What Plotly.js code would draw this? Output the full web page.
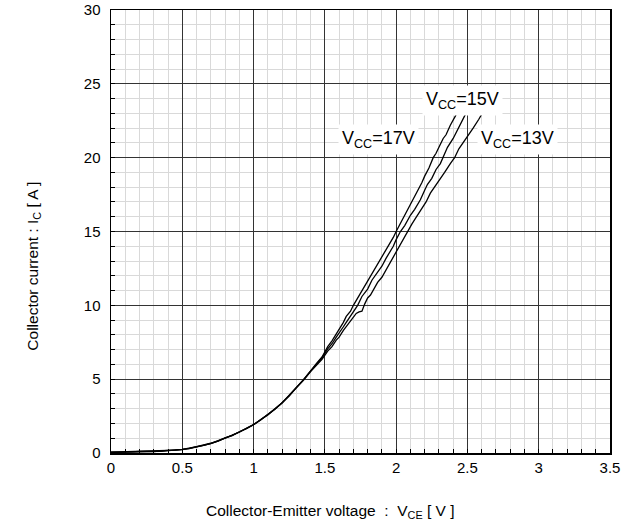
<!DOCTYPE html>
<html>
<head>
<meta charset="utf-8">
<script src="https://cdn.plot.ly/plotly-3.0.1.min.js"></script>
<style>html,body{margin:0;padding:0;background:#fff;}#chart{width:634px;height:526px;}</style>
</head>
<body>
<div id="chart"></div>
<script>
// Shared low-current part (curves overlap)
const lowVce = [0, 0.05, 0.1, 0.15, 0.2, 0.25, 0.3, 0.35, 0.4, 0.45, 0.5, 0.55, 0.6, 0.65, 0.7, 0.75, 0.8, 0.85, 0.9, 0.95, 1.0, 1.05, 1.1, 1.15, 1.2, 1.25, 1.3, 1.35, 1.4];
const lowIc17 = [0.05, 0.06, 0.07, 0.08, 0.09, 0.10, 0.11, 0.12, 0.15, 0.19, 0.24, 0.32, 0.41, 0.52, 0.65, 0.82, 1.00, 1.20, 1.42, 1.66, 1.93, 2.25, 2.60, 2.98, 3.40, 3.88, 4.42, 4.95, 5.58];
const lowIc15 = [0.04, 0.06, 0.06, 0.08, 0.08, 0.10, 0.10, 0.13, 0.14, 0.18, 0.25, 0.30, 0.40, 0.53, 0.64, 0.80, 1.02, 1.18, 1.44, 1.64, 1.91, 2.27, 2.58, 3.00, 3.38, 3.90, 4.40, 4.97, 5.55];
const lowIc13 = [0.06, 0.05, 0.08, 0.07, 0.10, 0.09, 0.12, 0.12, 0.16, 0.18, 0.23, 0.31, 0.42, 0.51, 0.66, 0.81, 0.99, 1.21, 1.41, 1.67, 1.92, 2.24, 2.61, 2.97, 3.41, 3.86, 4.43, 4.93, 5.52];

// Upper part of each curve
const hiVce17 = [1.44, 1.48, 1.52, 1.55, 1.58, 1.6, 1.63, 1.65, 1.68, 1.70, 1.73, 1.75, 1.78, 1.8, 1.83, 1.85, 1.88, 1.9, 1.93, 1.95, 1.98, 2.0, 2.03, 2.05, 2.08, 2.1, 2.13, 2.15, 2.18, 2.2, 2.23, 2.26, 2.28, 2.3, 2.33, 2.35, 2.38, 2.42];
const hiIc17  = [6.05, 6.5, 7.2, 7.6, 8.05, 8.35, 8.85, 9.25, 9.6, 10.0, 10.5, 10.8, 11.3, 11.6, 12.1, 12.45, 12.9, 13.3, 13.8, 14.15, 14.6, 15.0, 15.55, 15.85, 16.4, 16.8, 17.3, 17.7, 18.3, 18.75, 19.3, 20.0, 20.3, 20.7, 21.3, 21.55, 22.2, 22.9];

const hiVce15 = [1.44, 1.48, 1.52, 1.55, 1.58, 1.6, 1.63, 1.65, 1.68, 1.7, 1.73, 1.76, 1.8, 1.83, 1.85, 1.88, 1.9, 1.93, 1.95, 1.98, 2.0, 2.03, 2.06, 2.1, 2.13, 2.17, 2.2, 2.22, 2.25, 2.28, 2.31, 2.33, 2.36, 2.4, 2.43, 2.45, 2.48, 2.5];
const hiIc15  = [6.0, 6.45, 7.05, 7.4, 7.85, 8.1, 8.55, 8.85, 9.3, 9.55, 10.0, 10.6, 11.1, 11.7, 11.95, 12.4, 12.65, 13.2, 13.5, 14.0, 14.45, 15.0, 15.4, 16.1, 16.5, 17.15, 17.8, 18.2, 18.6, 19.2, 19.6, 20.0, 20.7, 21.3, 21.9, 22.2, 22.8, 23.2];

const hiVce13 = [1.44, 1.48, 1.52, 1.55, 1.58, 1.6, 1.63, 1.65, 1.68, 1.7, 1.72, 1.74, 1.76, 1.78, 1.8, 1.82, 1.85, 1.87, 1.9, 1.92, 1.95, 1.98, 2.0, 2.04, 2.08, 2.11, 2.14, 2.18, 2.21, 2.24, 2.27, 2.31, 2.34, 2.38, 2.41, 2.44, 2.47, 2.51, 2.54, 2.58, 2.61];
const hiIc13  = [5.95, 6.35, 6.9, 7.2, 7.65, 7.85, 8.3, 8.55, 9.0, 9.2, 9.45, 9.55, 9.6, 10.1, 10.5, 10.7, 11.2, 11.55, 11.9, 12.25, 12.7, 13.3, 13.6, 14.3, 15.0, 15.5, 15.95, 16.6, 17.0, 17.6, 18.0, 18.6, 19.0, 19.6, 20.0, 20.6, 21.0, 21.6, 22.0, 22.6, 23.1];

const xTicks = [0, 0.5, 1, 1.5, 2, 2.5, 3, 3.5];
const xTickText = ['0', '0.5', '1', '1.5', '2', '2.5', '3', '3.5'];
const yTicks = [0, 5, 10, 15, 20, 25, 30];
const yTickText = ['0', '5', '10', '15', '20', '25', '30'];

const labels = ['V<sub>CC</sub>=17V', 'V<sub>CC</sub>=15V', 'V<sub>CC</sub>=13V'];
const labelX = [1.874, 2.467, 2.853];
const labelY = [21.25, 23.9, 21.25];

const xTitle = 'Collector-Emitter voltage \u00A0:\u00A0 V<sub>CE</sub> [ V ]';
const yTitle = 'Collector current : I<sub>C</sub> [ A ]';

const FONT = 'Liberation Sans, Arial, sans-serif';

function mk(lowIc, hx, hy) {
  return {
    x: lowVce.concat(hx), y: lowIc.concat(hy),
    type: 'scatter', mode: 'lines',
    line: {color: '#000', width: 1.3},
    hoverinfo: 'skip', showlegend: false
  };
}
const data = [
  mk(lowIc17, hiVce17, hiIc17),
  mk(lowIc15, hiVce15, hiIc15),
  mk(lowIc13, hiVce13, hiIc13)
];

const annotations = labels.map((t, i) => ({
  x: labelX[i], y: labelY[i], xref: 'x', yref: 'y', text: t,
  showarrow: false, bgcolor: '#fff', borderpad: 3,
  font: {family: FONT, size: 18, color: '#000'}
}));
annotations.push({
  x: 0.44, y: -0.131, xref: 'paper', yref: 'paper', text: xTitle,
  showarrow: false, xanchor: 'center', yanchor: 'middle',
  font: {family: FONT, size: 15.5, color: '#000'}
});
annotations.push({
  x: -0.156, y: 0.421, xref: 'paper', yref: 'paper', text: yTitle,
  showarrow: false, xanchor: 'center', yanchor: 'middle', textangle: -90,
  font: {family: FONT, size: 15.5, color: '#000'}
});

const layout = {
  width: 634, height: 526,
  margin: {l: 111, r: 24, t: 10, b: 73},
  paper_bgcolor: '#fff', plot_bgcolor: '#fff',
  font: {family: FONT, size: 15, color: '#000'},
  xaxis: {
    range: [0, 3.5], tickvals: xTicks, ticktext: xTickText,
    showgrid: true, gridcolor: '#333', gridwidth: 1,
    ticks: 'inside', ticklen: 4, tickcolor: '#000',
    showline: true, linecolor: '#000', linewidth: 1.5, mirror: true,
    zeroline: false, tickfont: {size: 15},
    minor: {dtick: 0.1, showgrid: true, gridcolor: '#d9d9d9', gridwidth: 1, ticks: 'inside', ticklen: 4, tickcolor: '#000'}
  },
  yaxis: {
    range: [0, 30], tickvals: yTicks, ticktext: yTickText,
    showgrid: true, gridcolor: '#333', gridwidth: 1,
    ticks: 'inside', ticklen: 4, tickcolor: '#000',
    showline: true, linecolor: '#000', linewidth: 1.5, mirror: true,
    zeroline: false, tickfont: {size: 15},
    ticklabelstandoff: 6,
    minor: {dtick: 1, showgrid: true, gridcolor: '#d9d9d9', gridwidth: 1, ticks: 'inside', ticklen: 4, tickcolor: '#000'}
  },
  annotations: annotations
};

Plotly.newPlot('chart', data, layout, {staticPlot: true, displayModeBar: false});
</script>
</body>
</html>
